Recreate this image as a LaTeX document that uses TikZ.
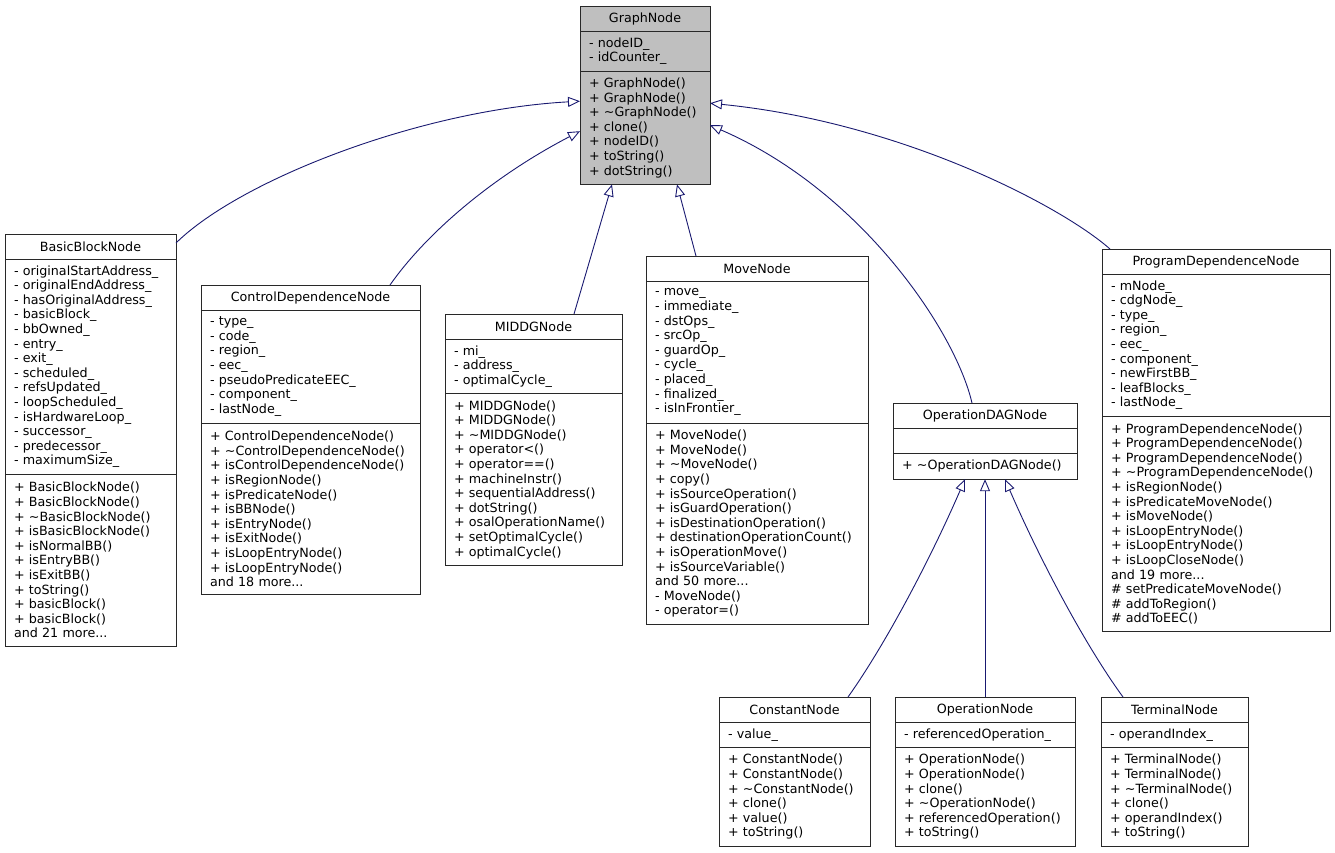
\documentclass[tikz,border=0pt]{standalone}
\usepackage{fontspec}
\setmainfont{DejaVu Sans}
\usetikzlibrary{positioning,arrows.meta}

\definecolor{nodegray}{RGB}{191,191,191}
\definecolor{linkblue}{RGB}{25,25,112}
\definecolor{boxline}{RGB}{40,40,40}

\tikzset{
  clspart/.style={draw=boxline, line width=1pt, outer sep=0pt, inner xsep=9pt, inner ysep=2pt,
    fill=white, font=\fontsize{12.7}{14.6}\selectfont},
  clshead/.style={clspart, align=center, minimum height=25pt},
  clsrows/.style={clspart, align=left, minimum height={14.6pt*#1+11pt}},
  isa/.style={draw=linkblue, line width=0.9pt, -{Triangle[open, length=12pt, width=10pt]}}
}

\begin{document}
\begin{tikzpicture}[x=1pt, y=-1pt]
  \useasboundingbox (0,0) rectangle (1335,852);

  % Base class
  \node[clshead, fill=nodegray, text width=112pt, anchor=north] (graphH) at (645,6) {GraphNode};
  \node[clsrows=2, fill=nodegray, text width=112pt, below=0pt of graphH] (graphA) {- nodeID\_\\- idCounter\_};
  \node[clsrows=7, fill=nodegray, text width=112pt, below=0pt of graphA] (graphO)
    {+ GraphNode()\\+ GraphNode()\\+ \textasciitilde GraphNode()\\+ clone()\\+ nodeID()\\+ toString()\\+ dotString()};

  % Direct subclasses
  \node[clshead, text width=153pt, anchor=north] (bbnH) at (90.5,234) {BasicBlockNode};
  \node[clsrows=14, text width=153pt, below=0pt of bbnH] (bbnA)
    {- originalStartAddress\_\\- originalEndAddress\_\\- hasOriginalAddress\_\\- basicBlock\_\\- bbOwned\_\\- entry\_\\- exit\_\\- scheduled\_\\- refsUpdated\_\\- loopScheduled\_\\- isHardwareLoop\_\\- successor\_\\- predecessor\_\\- maximumSize\_};
  \node[clsrows=11, text width=153pt, below=0pt of bbnA] (bbnO)
    {+ BasicBlockNode()\\+ BasicBlockNode()\\+ \textasciitilde BasicBlockNode()\\+ isBasicBlockNode()\\+ isNormalBB()\\+ isEntryBB()\\+ isExitBB()\\+ toString()\\+ basicBlock()\\+ basicBlock()\\and 21 more...};

  \node[clshead, text width=201pt, anchor=north] (cdnH) at (310.5,285) {ControlDependenceNode};
  \node[clsrows=7, text width=201pt, below=0pt of cdnH] (cdnA)
    {- type\_\\- code\_\\- region\_\\- eec\_\\- pseudoPredicateEEC\_\\- component\_\\- lastNode\_};
  \node[clsrows=11, text width=201pt, below=0pt of cdnA] (cdnO)
    {+ ControlDependenceNode()\\+ \textasciitilde ControlDependenceNode()\\+ isControlDependenceNode()\\+ isRegionNode()\\+ isPredicateNode()\\+ isBBNode()\\+ isEntryNode()\\+ isExitNode()\\+ isLoopEntryNode()\\+ isLoopEntryNode()\\and 18 more...};

  \node[clshead, text width=159pt, anchor=north] (mdnH) at (533.5,314) {MIDDGNode};
  \node[clsrows=3, text width=159pt, below=0pt of mdnH] (mdnA)
    {- mi\_\\- address\_\\- optimalCycle\_};
  \node[clsrows=11, text width=159pt, below=0pt of mdnA] (mdnO)
    {+ MIDDGNode()\\+ MIDDGNode()\\+ \textasciitilde MIDDGNode()\\+ operator<()\\+ operator==()\\+ machineInstr()\\+ sequentialAddress()\\+ dotString()\\+ osalOperationName()\\+ setOptimalCycle()\\+ optimalCycle()};

  \node[clshead, text width=204pt, anchor=north] (mvnH) at (757,256) {MoveNode};
  \node[clsrows=9, text width=204pt, below=0pt of mvnH] (mvnA)
    {- move\_\\- immediate\_\\- dstOps\_\\- srcOp\_\\- guardOp\_\\- cycle\_\\- placed\_\\- finalized\_\\- isInFrontier\_};
  \node[clsrows=13, text width=204pt, below=0pt of mvnA] (mvnO)
    {+ MoveNode()\\+ MoveNode()\\+ \textasciitilde MoveNode()\\+ copy()\\+ isSourceOperation()\\+ isGuardOperation()\\+ isDestinationOperation()\\+ destinationOperationCount()\\+ isOperationMove()\\+ isSourceVariable()\\and 50 more...\\- MoveNode()\\- operator=()};

  \node[clshead, text width=166pt, anchor=north] (odnH) at (985,403) {OperationDAGNode};
  \node[clsrows=1, text width=166pt, below=0pt of odnH] (odnA) {};
  \node[clsrows=1, text width=166pt, below=0pt of odnA] (odnO) {+ \textasciitilde OperationDAGNode()};

  \node[clshead, text width=210pt, anchor=north] (pdnH) at (1216,249) {ProgramDependenceNode};
  \node[clsrows=9, text width=210pt, below=0pt of pdnH] (pdnA)
    {- mNode\_\\- cdgNode\_\\- type\_\\- region\_\\- eec\_\\- component\_\\- newFirstBB\_\\- leafBlocks\_\\- lastNode\_};
  \node[clsrows=14, text width=210pt, below=0pt of pdnA] (pdnO)
    {+ ProgramDependenceNode()\\+ ProgramDependenceNode()\\+ ProgramDependenceNode()\\+ \textasciitilde ProgramDependenceNode()\\+ isRegionNode()\\+ isPredicateMoveNode()\\+ isMoveNode()\\+ isLoopEntryNode()\\+ isLoopEntryNode()\\+ isLoopCloseNode()\\and 19 more...\\\# setPredicateMoveNode()\\\# addToRegion()\\\# addToEEC()};

  % Subclasses of OperationDAGNode
  \node[clshead, text width=133pt, anchor=north] (cnnH) at (794.5,697) {ConstantNode};
  \node[clsrows=1, text width=133pt, below=0pt of cnnH] (cnnA) {- value\_};
  \node[clsrows=6, text width=133pt, below=0pt of cnnA] (cnnO)
    {+ ConstantNode()\\+ ConstantNode()\\+ \textasciitilde ConstantNode()\\+ clone()\\+ value()\\+ toString()};

  \node[clshead, text width=162pt, anchor=north] (opnH) at (985,697) {OperationNode};
  \node[clsrows=1, text width=162pt, below=0pt of opnH] (opnA) {- referencedOperation\_};
  \node[clsrows=6, text width=162pt, below=0pt of opnA] (opnO)
    {+ OperationNode()\\+ OperationNode()\\+ clone()\\+ \textasciitilde OperationNode()\\+ referencedOperation()\\+ toString()};

  \node[clshead, text width=129pt, anchor=north] (tmnH) at (1174.5,697) {TerminalNode};
  \node[clsrows=1, text width=129pt, below=0pt of tmnH] (tmnA) {- operandIndex\_};
  \node[clsrows=6, text width=129pt, below=0pt of tmnA] (tmnO)
    {+ TerminalNode()\\+ TerminalNode()\\+ \textasciitilde TerminalNode()\\+ clone()\\+ operandIndex()\\+ toString()};

  % Inheritance
  \draw[isa] ([yshift=-9pt]bbnH.north east) .. controls (240,180) and (420,110) .. ([yshift=-30pt]graphO.north west);
  \draw[isa] ([xshift=79.5pt]cdnH.north) .. controls (425,235) and (490,178) .. ([yshift=-60pt]graphO.north west);
  \draw[isa] ([xshift=40.5pt]mdnH.north) -- ([xshift=-33pt]graphO.south);
  \draw[isa] ([xshift=-61pt]mvnH.north) -- ([xshift=32pt]graphO.south);
  \draw[isa] ([xshift=-13pt]odnH.north) .. controls (955,330) and (860,190) .. ([yshift=-54pt]graphO.north east);
  \draw[isa] ([xshift=8pt]pdnH.north west) .. controls (1060,205) and (900,122) .. ([yshift=-32pt]graphO.north east);
  \draw[isa] ([xshift=-22pt]cnnH.north east) .. controls (885,645) and (930,560) .. ([xshift=-20pt]odnO.south);
  \draw[isa] (opnH.north) -- (odnO.south);
  \draw[isa] ([xshift=22pt]tmnH.north west) .. controls (1085,645) and (1040,560) .. ([xshift=20pt]odnO.south);
\end{tikzpicture}
\end{document}
